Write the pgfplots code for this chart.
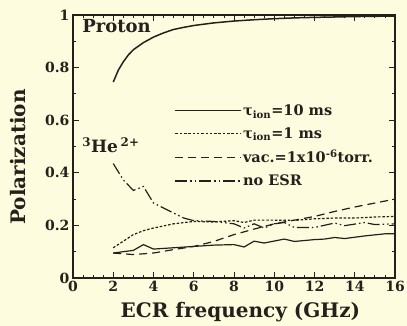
\documentclass[border=0pt]{standalone}
\usepackage{fontspec}
\setmainfont{DejaVu Serif}
\usepackage{pgfplots}
\pgfplotsset{compat=1.18}
\definecolor{bg}{RGB}{254,252,222}
\definecolor{ink}{RGB}{38,32,28}

\begin{document}
\begin{tikzpicture}[x=1pt,y=1pt]
\fill[bg] (-73,-48) rectangle (334,278);
\useasboundingbox (-73,-48) rectangle (334,278);
\begin{axis}[at={(0,0)}, anchor=south west, scale only axis,
  width=322pt, height=263pt,
  xmin=0, xmax=16, ymin=0, ymax=1,
  xtick={0,2,4,6,8,10,12,14,16},
  ytick={0,0.2,0.4,0.6,0.8,1},
  minor x tick num=3, minor y tick num=1,
  tick align=inside, major tick length=6pt, minor tick length=3pt,
  axis line style={ink, line width=1.2pt},
  every tick/.style={ink, line width=0.8pt},
  /pgf/number format/assume math mode=true,
  tick label style={font=\fontsize{14}{14}\selectfont\bfseries, text=ink},
  xlabel={ECR frequency (GHz)},
  ylabel={Polarization},
  label style={font=\fontsize{20}{20}\selectfont\bfseries, text=ink},
  xlabel style={at={(axis description cs:0.52,0)}, anchor=base, yshift=-40pt},
  ylabel style={at={(axis description cs:-0.171,0.46)}, anchor=center},
  legend style={at={(axis cs:5.05,0.664)}, anchor=north west, draw=none, fill=none,
    font=\fontsize{14.5}{16}\selectfont\bfseries, row sep=8.5pt, inner sep=0pt,
    nodes={inner sep=1pt, text=ink},
    /tikz/every even column/.append style={column sep=4pt}},
  legend cell align=left,
  legend image code/.code={\draw[#1] (0pt,0pt) -- (66pt,0pt);},
]
\addplot[ink, line width=1.5pt, forget plot] coordinates {
(2,0.745)(2.25,0.79)(2.5,0.822)(2.75,0.848)(3,0.868)(3.5,0.895)(4,0.916)(4.5,0.932)(5,0.945)(5.5,0.953)(6,0.96)(7,0.97)(8,0.977)(9,0.982)(10,0.986)(11,0.989)(12,0.991)(14,0.994)(16,0.996)};
\addplot[ink, line width=1.2pt] coordinates {
(2,0.095)(3,0.105)(3.5,0.127)(4,0.11)(5,0.115)(6,0.12)(7,0.125)(8,0.127)(8.5,0.118)(9,0.14)(9.5,0.133)(10.5,0.148)(11,0.139)(12,0.146)(12.5,0.148)(13,0.154)(13.5,0.15)(14.5,0.16)(15.5,0.168)(16,0.168)};
\addlegendentry{τ\textsubscript{ion}=10 ms}
\addplot[ink, line width=1.2pt, dash pattern=on 2.5pt off 1.8pt] coordinates {
(2,0.115)(2.5,0.14)(3,0.165)(3.5,0.18)(4,0.19)(5,0.206)(6,0.215)(7,0.213)(8,0.218)(8.5,0.211)(9,0.22)(10,0.22)(11,0.219)(12,0.225)(13,0.228)(14,0.228)(15,0.232)(16,0.234)};
\addlegendentry{τ\textsubscript{ion}=1 ms}
\addplot[ink, line width=1.2pt, dash pattern=on 8pt off 5pt] coordinates {
(2,0.095)(3,0.089)(4,0.095)(5,0.108)(6,0.12)(7,0.139)(8,0.165)(9,0.186)(10,0.206)(11,0.22)(12,0.234)(13,0.253)(14,0.27)(15,0.285)(16,0.30)};
\addlegendentry{vac.=1x10\textsuperscript{-6}torr.}
\addplot[ink, line width=1.2pt, dash pattern=on 12pt off 3pt on 1.5pt off 3pt on 1.5pt off 3pt] coordinates {
(2,0.435)(2.5,0.373)(3,0.333)(3.5,0.348)(4,0.285)(4.5,0.266)(5,0.247)(5.5,0.228)(6,0.218)(7,0.215)(8,0.206)(8.5,0.19)(9,0.206)(9.5,0.19)(10,0.206)(10.5,0.211)(11,0.192)(12,0.192)(13,0.209)(13.5,0.199)(14.5,0.211)(15,0.203)(16,0.206)};
\addlegendentry{no ESR}
\node[anchor=west, font=\fontsize{18}{18}\selectfont\bfseries, text=ink, inner sep=0pt] at (axis cs:0.45,0.958) {Proton};
\node[anchor=west, font=\fontsize{17}{17}\selectfont\bfseries, text=ink, inner sep=0pt] at (axis cs:0.45,0.506) {\textsuperscript{3}He\,\textsuperscript{2+}};
\end{axis}
\end{tikzpicture}
\end{document}
